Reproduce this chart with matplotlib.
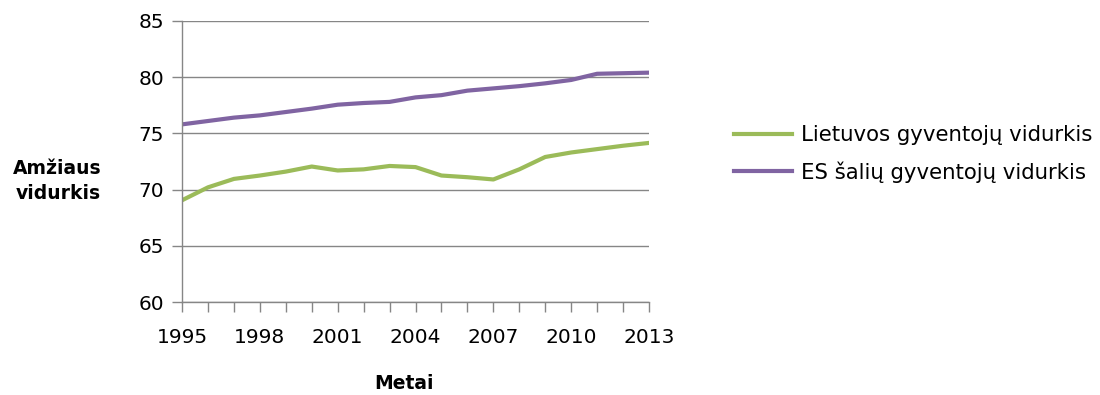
import matplotlib.pyplot as plt
from matplotlib.lines import Line2D

metai = list(range(1995, 2014))
lietuva = [69.05, 70.2, 70.95, 71.25, 71.6, 72.05, 71.7, 71.8, 72.1, 72.0,
           71.25, 71.1, 70.9, 71.8, 72.9, 73.3, 73.6, 73.9, 74.15]
es = [75.8, 76.1, 76.4, 76.6, 76.9, 77.2, 77.55, 77.7, 77.8, 78.2,
      78.4, 78.8, 79.0, 79.2, 79.45, 79.75, 80.3, 80.35, 80.4]
y_ticks = [60, 65, 70, 75, 80, 85]
x_labels = [1995, 1998, 2001, 2004, 2007, 2010, 2013]

plt.rcParams['font.family'] = ['DejaVu Sans']

fig = plt.figure(figsize=(11, 3.95), dpi=100)
ax = fig.add_axes([0.1655, 0.2354, 0.4245, 0.7116])

pilka = '#868686'
ax.plot(metai, lietuva, color='#9BBB59', lw=3, solid_joinstyle='round',
        label='Lietuvos gyventojų vidurkis')
ax.plot(metai, es, color='#8064A2', lw=3, solid_joinstyle='round',
        label='ES šalių gyventojų vidurkis')

ax.set_xlim(1995, 2013)
ax.set_ylim(60, 85)
ax.set_yticks(y_ticks)
ax.set_xticks(metai)
ax.set_xticklabels([str(m) if m in x_labels else '' for m in metai])
ax.grid(axis='y', color=pilka, lw=1)
ax.set_axisbelow(True)

for side in ['top', 'right']:
    ax.spines[side].set_visible(False)
for side in ['left', 'bottom']:
    ax.spines[side].set_color(pilka)
    ax.spines[side].set_linewidth(1)
ax.tick_params(axis='both', colors=pilka, length=7, width=1, labelsize=14.5,
               labelcolor='black')
ax.tick_params(axis='x', pad=12)
ax.tick_params(axis='y', pad=6)

fig.text(0.092, 0.542, 'Amžiaus\nvidurkis', ha='right', va='center',
         fontsize=13.5, fontweight='bold', linespacing=1.45)
fig.text(0.367, 0.03, 'Metai', ha='center', va='center',
         fontsize=13.5, fontweight='bold')

handles = [Line2D([], [], color='#9BBB59', lw=3),
           Line2D([], [], color='#8064A2', lw=3)]
fig.legend(handles, ['Lietuvos gyventojų vidurkis', 'ES šalių gyventojų vidurkis'],
           loc='center left', bbox_to_anchor=(0.667, 0.61), frameon=False,
           fontsize=15.3, handlelength=2.75, handletextpad=0.4, labelspacing=0.75,
           borderaxespad=0, borderpad=0)

fig.savefig('out.png', dpi=100)
